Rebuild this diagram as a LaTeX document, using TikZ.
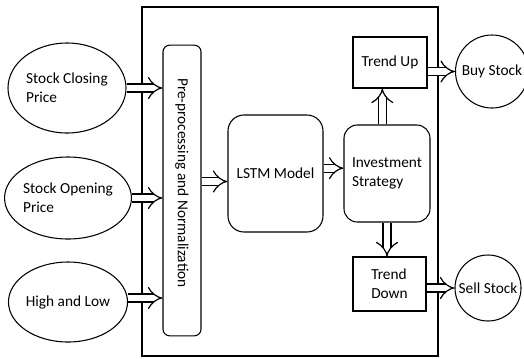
\documentclass[tikz,border=0pt]{standalone}
\usepackage{fontspec}
\setmainfont{Carlito}
\usetikzlibrary{positioning}
\usetikzlibrary{shapes,arrows,calc,arrows.meta}

\begin{document}
\begin{tikzpicture}[x=0.75pt, y=-0.75pt, line width=0.8pt,
  every node/.style={font=\fontsize{11.5}{14.3}\selectfont},
  inputnode/.style={draw, ellipse, inner sep=0pt, align=left},
  decision/.style={draw, circle, inner sep=0pt},
  stagebox/.style={draw, rectangle, rounded corners=10pt, inner sep=0pt, align=left},
  trendbox/.style={draw, rectangle, inner sep=0pt, align=left},
  flow/.style={double, double distance=5pt, line width=0.9pt, -{Implies}}]
  \useasboundingbox (0,0) rectangle (524,358);
  % System frame
  \node [draw, line width=1.1pt, minimum width=222pt, minimum height=261.75pt] (frame) at (290,181.5) {};
  % Inputs
  \node [inputnode, minimum width=88.5pt, minimum height=67.5pt] (close) at (67,88) {Stock Closing\\Price};
  \node [inputnode, minimum width=80.25pt, minimum height=61.5pt] (open) at (68,198) {Stock Opening\\Price};
  \node [inputnode, minimum width=79.5pt, minimum height=60pt] (hilo) at (68,302) {High and Low};
  % Processing stages
  \node [stagebox, rounded corners=5pt, minimum width=28.5pt, minimum height=218pt] (prep) at (182,190.5) {};
  \node [rotate=-90] (preptext) at (182,183) {Pre-processing and Normalization};
  \node [stagebox, rounded corners=12pt, minimum width=71.25pt, minimum height=87.75pt] (lstm) at (275.5,173.5) {LSTM Model};
  \node [stagebox, minimum width=64.5pt, minimum height=72.75pt] (invest) at (387,173.5) {Investment\\Strategy};
  \node [trendbox, minimum width=55.5pt, minimum height=38.25pt] (up) at (390,62.5) {Trend Up};
  \node [trendbox, minimum width=54.75pt, minimum height=40.5pt] (down) at (389.5,284) {Trend\\Down};
  % Outcomes
  \node [decision, minimum size=54.75pt] (buy) at (492,71.5) {Buy Stock};
  \node [decision, minimum size=49.5pt] (sell) at (488,288) {Sell Stock};
  % Arrows
  \draw [flow] (close.east) -- (prep.west |- close.east);
  \draw [flow] (open.east) -- (prep.west |- open.east);
  \draw [flow] ([yshift=3pt]hilo.east) -- ([yshift=3pt]prep.west |- hilo.east);
  \coordinate (lstmin) at ([yshift=-6pt]lstm.west);
  \draw [flow] (prep.east |- lstmin) -- (lstmin);
  \coordinate (investin) at ([yshift=4pt]invest.west);
  \draw [flow] (lstm.east |- investin) -- (investin);
  \draw [flow] ([xshift=-3.5pt]invest.north) -- ([xshift=-3.5pt]invest.north |- up.south);
  \draw [flow] (invest.south) -- (invest.south |- down.north);
  \draw [flow] (up.east |- buy.west) -- (buy.west);
  \draw [flow] (down.east |- sell.west) -- (sell.west);
\end{tikzpicture}
\end{document}
